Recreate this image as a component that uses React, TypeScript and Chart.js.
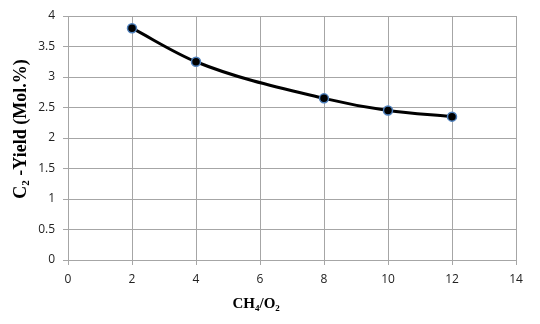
import React, { useEffect, useRef } from "react";
import { Chart, registerables } from "chart.js";

Chart.register(...registerables);

const xValues = [2, 4, 8, 10, 12];
const yieldValues = [3.8, 3.25, 2.65, 2.45, 2.35];
const xTicks = { min: 0, max: 14, step: 2 };
const yTicks = { min: 0, max: 4, step: 0.5 };

const drawSub = (
  ctx: CanvasRenderingContext2D,
  parts: { t: string; sub?: boolean }[],
  size: number,
  cx: number,
  cy: number
) => {
  const big = `bold ${size}px "Liberation Serif", "DejaVu Serif", serif`;
  const small = `bold ${Math.round(size * 0.62)}px "Liberation Serif", "DejaVu Serif", serif`;
  let total = 0;
  parts.forEach((p) => {
    ctx.font = p.sub ? small : big;
    total += ctx.measureText(p.t).width;
  });
  let x = cx - total / 2;
  ctx.textBaseline = "middle";
  ctx.textAlign = "left";
  parts.forEach((p) => {
    ctx.font = p.sub ? small : big;
    ctx.fillText(p.t, x, p.sub ? cy + size * 0.28 : cy);
    x += ctx.measureText(p.t).width;
  });
};

const titlesPlugin = {
  id: "titles",
  afterDraw(chart: any) {
    const { ctx, chartArea } = chart;
    ctx.save();
    ctx.fillStyle = "#000";
    drawSub(
      ctx,
      [{ t: "CH" }, { t: "4", sub: true }, { t: "/O" }, { t: "2", sub: true }],
      15,
      chartArea.left + (chartArea.right - chartArea.left) * 0.42,
      chartArea.bottom + 44
    );
    ctx.translate(chartArea.left - 47, (chartArea.top + chartArea.bottom) / 2 - 9);
    ctx.rotate(-Math.PI / 2);
    drawSub(
      ctx,
      [{ t: "C" }, { t: "2", sub: true }, { t: " -Yield (Mol.%)" }],
      18,
      0,
      0
    );
    ctx.restore();
  },
};

export default function App() {
  const ref = useRef<HTMLCanvasElement | null>(null);
  useEffect(() => {
    if (!ref.current) return;
    const tickFont = { family: '"Open Sans", "Liberation Sans", sans-serif', size: 12 };
    const chart = new Chart(ref.current, {
      type: "line",
      data: {
        datasets: [
          {
            data: xValues.map((x, i) => ({ x, y: yieldValues[i] })),
            borderColor: "#000",
            borderWidth: 3,
            tension: 0.4,
            cubicInterpolationMode: "monotone",
            pointRadius: 4.5,
            pointBackgroundColor: "#000",
            pointBorderColor: "#4f81bd",
            pointBorderWidth: 1.5,
            fill: false,
          },
        ],
      },
      options: {
        animation: false,
        responsive: false,
        maintainAspectRatio: false,
        layout: { padding: { left: 0, right: 24, top: 16, bottom: 0 } },
        plugins: { legend: { display: false }, tooltip: { enabled: false } },
        scales: {
          x: {
            type: "linear",
            min: xTicks.min,
            max: xTicks.max,
            ticks: { stepSize: xTicks.step, color: "#222", font: tickFont, padding: 7 },
            grid: { color: "#a6a6a6", lineWidth: 1, tickLength: 5, drawTicks: true },
            border: { color: "#a6a6a6", width: 1 },
            afterFit: (s: any) => {
              s.height = 64;
            },
          },
          y: {
            type: "linear",
            min: yTicks.min,
            max: yTicks.max,
            ticks: {
              stepSize: yTicks.step,
              color: "#222",
              font: tickFont,
              padding: 8,
              callback: (v: any) => String(Number(v)),
            },
            grid: { color: "#a6a6a6", lineWidth: 1, tickLength: 5, drawTicks: true },
            border: { color: "#a6a6a6", width: 1 },
            afterFit: (s: any) => {
              s.width = 68;
            },
          },
        },
      } as any,
      plugins: [titlesPlugin],
    });
    return () => chart.destroy();
  }, []);
  return (
    <div style={{ position: "fixed", left: 0, top: 0, width: 540, height: 324, background: "#fff" }}>
      <canvas ref={ref} width={540} height={324} style={{ width: 540, height: 324 }} />
    </div>
  );
}
